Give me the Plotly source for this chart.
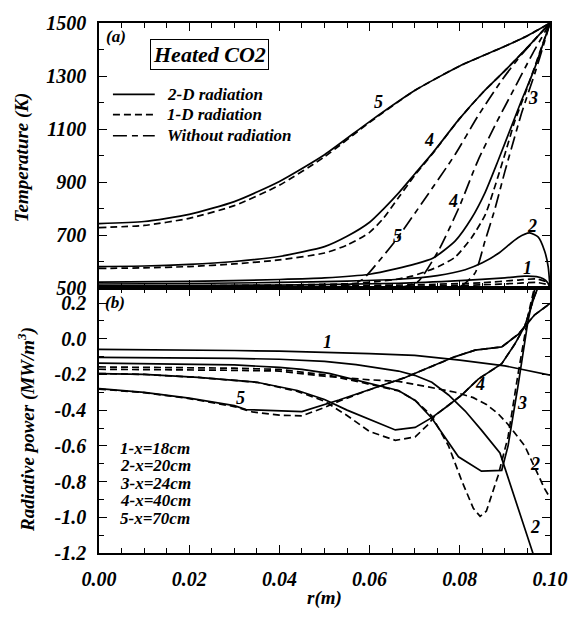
import plotly.graph_objects as go

# ---------------- panel (a): temperature profiles, T (K) vs r (m) ----------------
# 2-D radiation (solid)
r_a_2d_1 = [0, 0.04, 0.0664, 0.08, 0.09, 0.0944, 0.097, 0.0985, 0.0995, 0.1]
T_a_2d_1 = [508, 511, 518, 528, 538, 545, 543, 535, 520, 500]
r_a_2d_2 = [0, 0.02, 0.04, 0.055, 0.0664, 0.075, 0.0812, 0.085, 0.0885, 0.0929, 0.0955, 0.0974, 0.0988, 0.0996, 0.1]
T_a_2d_2 = [515, 517, 521, 526, 533, 547, 569, 595, 630, 690, 708, 692, 640, 580, 500]
r_a_2d_3 = [0, 0.02, 0.04, 0.05, 0.06, 0.066, 0.07, 0.074, 0.079, 0.0826, 0.0856, 0.0885, 0.091, 0.0935, 0.0965, 0.1]
T_a_2d_3 = [522, 525, 532, 538, 552, 573, 590, 612, 678, 763, 860, 981, 1090, 1200, 1325, 1500]
r_a_2d_4 = [0, 0.01, 0.02, 0.03, 0.04, 0.05, 0.055, 0.06, 0.063, 0.0665, 0.07, 0.074, 0.08, 0.085, 0.09, 0.095, 0.1]
T_a_2d_4 = [581, 583, 589, 600, 619, 656, 695, 748, 797, 860, 930, 1010, 1140, 1236, 1320, 1408, 1500]
r_a_2d_5 = [0, 0.01, 0.02, 0.03, 0.04, 0.05, 0.06, 0.07, 0.08, 0.09, 0.095, 0.1]
T_a_2d_5 = [743, 751, 778, 826, 902, 1003, 1128, 1245, 1338, 1412, 1452, 1500]

# 1-D radiation (dashed)
r_a_1d_1 = [0, 0.04, 0.07, 0.085, 0.093, 0.097, 0.0995, 0.1]
T_a_1d_1 = [503, 504, 507, 512, 518, 521, 512, 500]
r_a_1d_2 = [0, 0.04, 0.07, 0.085, 0.093, 0.097, 0.0995, 0.1]
T_a_1d_2 = [506, 508, 512, 520, 530, 534, 520, 500]
r_a_1d_3 = [0, 0.02, 0.04, 0.055, 0.062, 0.066, 0.0694, 0.0753, 0.079, 0.0826, 0.0856, 0.0878, 0.09, 0.0922, 0.0951, 0.1]
T_a_1d_3 = [506, 508, 511, 516, 525, 533, 545, 581, 617, 690, 775, 884, 1005, 1130, 1262, 1500]
r_a_1d_4 = [0, 0.01, 0.02, 0.03, 0.04, 0.05, 0.055, 0.06, 0.063, 0.0665, 0.07, 0.074, 0.08, 0.085, 0.09, 0.095, 0.1]
T_a_1d_4 = [574, 576, 581, 591, 606, 632, 662, 710, 762, 843, 925, 1008, 1140, 1236, 1320, 1408, 1500]
r_a_1d_5 = [0, 0.01, 0.02, 0.03, 0.04, 0.05, 0.06, 0.07, 0.08, 0.09, 0.095, 0.1]
T_a_1d_5 = [728, 736, 763, 811, 888, 995, 1125, 1245, 1338, 1412, 1452, 1500]

# without radiation (dash-dot)
r_a_nr_3 = [0, 0.078, 0.0804, 0.0834, 0.0856, 0.0878, 0.09, 0.0915, 0.0937, 0.0966, 0.0988, 0.1]
T_a_nr_3 = [500, 500, 508, 557, 678, 799, 940, 1030, 1160, 1308, 1430, 1500]
r_a_nr_4 = [0, 0.065, 0.068, 0.0709, 0.0753, 0.0797, 0.084, 0.088, 0.092, 0.096, 0.1]
T_a_nr_4 = [500, 500, 506, 527, 642, 799, 980, 1120, 1250, 1380, 1500]
r_a_nr_5 = [0, 0.05, 0.053, 0.056, 0.0585, 0.062, 0.0657, 0.072, 0.079, 0.0841, 0.0893, 0.0937, 0.1]
T_a_nr_5 = [500, 500, 503, 514, 533, 600, 678, 830, 1005, 1151, 1284, 1381, 1500]

# ---------------- panel (b): radiative power (MW/m^3) vs r (m) ----------------
r_b_2d_1 = [0, 0.01, 0.02, 0.03, 0.04, 0.05, 0.06, 0.07, 0.08, 0.09, 0.1]
P_b_2d_1 = [-0.060, -0.061, -0.063, -0.066, -0.070, -0.076, -0.083, -0.093, -0.12, -0.152, -0.204]
r_b_2d_2 = [0, 0.01, 0.02, 0.03, 0.04, 0.05, 0.057, 0.0664, 0.07, 0.0738, 0.0775, 0.0812, 0.0848, 0.0889, 0.0962, 0.098]
P_b_2d_2 = [-0.104, -0.105, -0.107, -0.110, -0.115, -0.127, -0.145, -0.181, -0.205, -0.244, -0.315, -0.405, -0.512, -0.64, -1.2, -1.34]
r_b_2d_3 = [0, 0.01, 0.02, 0.03, 0.04, 0.045, 0.051, 0.06, 0.0664, 0.0701, 0.0738, 0.0797, 0.0848, 0.0893, 0.0907, 0.0929, 0.0951, 0.0966, 0.0975]
P_b_2d_3 = [-0.137, -0.139, -0.142, -0.147, -0.16, -0.172, -0.194, -0.25, -0.29, -0.346, -0.445, -0.661, -0.742, -0.737, -0.6, -0.265, 0.096, 0.276, 0.38]
r_b_2d_4 = [0, 0.01, 0.022, 0.035, 0.044, 0.05, 0.055, 0.0606, 0.0657, 0.0701, 0.0738, 0.0767, 0.0804, 0.0841, 0.0893, 0.0922, 0.0944, 0.0966, 0.098]
P_b_2d_4 = [-0.195, -0.2, -0.217, -0.244, -0.29, -0.34, -0.40, -0.46, -0.511, -0.497, -0.442, -0.388, -0.316, -0.226, -0.14, -0.03, 0.07, 0.24, 0.33]
r_b_2d_5 = [0, 0.01, 0.02, 0.03, 0.0326, 0.04, 0.045, 0.0532, 0.0606, 0.0679, 0.0738, 0.079, 0.0834, 0.0863, 0.0893, 0.093, 0.0966, 0.1]
P_b_2d_5 = [-0.28, -0.30, -0.333, -0.375, -0.397, -0.404, -0.408, -0.343, -0.28, -0.217, -0.154, -0.1, -0.064, -0.055, -0.046, 0.026, 0.134, 0.197]

r_b_1d_2 = [0, 0.01, 0.02, 0.03, 0.04, 0.05, 0.06, 0.0664, 0.073, 0.079, 0.083, 0.086, 0.0885, 0.0907, 0.0944, 0.0988, 0.1]
P_b_1d_2 = [-0.171, -0.172, -0.174, -0.177, -0.181, -0.21, -0.23, -0.239, -0.27, -0.30, -0.33, -0.37, -0.42, -0.48, -0.60, -0.84, -0.89]
r_b_1d_3 = [0, 0.01, 0.02, 0.03, 0.04, 0.051, 0.06, 0.0664, 0.0701, 0.0738, 0.0775, 0.0805, 0.083, 0.0845, 0.0859, 0.0885, 0.0907, 0.0929, 0.0953, 0.0967, 0.0976]
P_b_1d_3 = [-0.158, -0.159, -0.161, -0.165, -0.172, -0.205, -0.255, -0.292, -0.345, -0.433, -0.6, -0.8, -0.95, -0.995, -0.965, -0.766, -0.55, -0.2, 0.15, 0.30, 0.40]
r_b_1d_4 = [0, 0.01, 0.022, 0.035, 0.044, 0.05, 0.055, 0.06, 0.0657, 0.0701, 0.0731, 0.0745, 0.0767, 0.0804, 0.0841, 0.0893, 0.0922, 0.0944, 0.0966, 0.098]
P_b_1d_4 = [-0.195, -0.2, -0.217, -0.244, -0.295, -0.35, -0.43, -0.52, -0.569, -0.55, -0.478, -0.43, -0.388, -0.316, -0.226, -0.14, -0.03, 0.07, 0.24, 0.33]
r_b_1d_5 = [0, 0.01, 0.02, 0.03, 0.034, 0.04, 0.045, 0.05, 0.0532, 0.0606, 0.0679, 0.0738, 0.079, 0.0834, 0.0863, 0.0893, 0.093, 0.0966, 0.1]
P_b_1d_5 = [-0.282, -0.302, -0.335, -0.38, -0.41, -0.428, -0.432, -0.385, -0.35, -0.28, -0.217, -0.154, -0.1, -0.064, -0.055, -0.046, 0.026, 0.134, 0.197]

# axis ticks
x_tickvals = [0.0, 0.02, 0.04, 0.06, 0.08, 0.10]
x_ticktext = ["0.00", "0.02", "0.04", "0.06", "0.08", "0.10"]
T_tickvals = [500, 700, 900, 1100, 1300, 1500]
T_ticktext = ["500", "700", "900", "1100", "1300", "1500"]
P_tickvals = [-1.2, -1.0, -0.8, -0.6, -0.4, -0.2, 0.0, 0.2]
P_ticktext = ["-1.2", "-1.0", "-0.8", "-0.6", "-0.4", "-0.2", "0.0", "0.2"]

legend_names = ["2-D radiation", "1-D radiation", "Without radiation"]
case_labels = ["1-x=18cm", "2-x=20cm", "3-x=24cm", "4-x=40cm", "5-x=70cm"]

FAMILY = "Liberation Serif"


def bfont(size):
    return dict(family=FAMILY, size=size, color="black", weight="bold", style="italic")


def bi(s):
    return "<b><i>" + s + "</i></b>"


SOLID = "solid"
DASHED = "7px,4px"
DASHDOT = "14px,5px,6px,5px"
LW = 1.7

# plot box in pixels (left, right, top, bottom) used for paper-space notes
BOX_L, BOX_R, BOX_T, BOX_B = 99, 552, 14, 564


def px_x(px):
    return (px - BOX_L) / (BOX_R - BOX_L)


def px_y(py):
    return (BOX_B - py) / (BOX_B - BOX_T)


fig = go.Figure()


def add(x, y, dash, panel, shape="spline"):
    xa, ya = ("x", "y") if panel == "a" else ("x2", "y2")
    fig.add_trace(go.Scatter(
        x=x, y=y, mode="lines", xaxis=xa, yaxis=ya,
        line=dict(color="black", width=LW, dash=dash, shape=shape,
                  smoothing=0.6 if shape == "spline" else None),
        showlegend=False, hoverinfo="skip",
    ))


# panel (a)
for x, y in [(r_a_2d_1, T_a_2d_1), (r_a_2d_2, T_a_2d_2), (r_a_2d_3, T_a_2d_3),
             (r_a_2d_4, T_a_2d_4), (r_a_2d_5, T_a_2d_5)]:
    add(x, y, SOLID, "a")
for x, y in [(r_a_1d_1, T_a_1d_1), (r_a_1d_2, T_a_1d_2), (r_a_1d_3, T_a_1d_3),
             (r_a_1d_4, T_a_1d_4), (r_a_1d_5, T_a_1d_5)]:
    add(x, y, DASHED, "a")
for x, y in [(r_a_nr_3, T_a_nr_3), (r_a_nr_4, T_a_nr_4), (r_a_nr_5, T_a_nr_5)]:
    add(x, y, DASHDOT, "a")

# panel (b)
for x, y in [(r_b_2d_1, P_b_2d_1), (r_b_2d_2, P_b_2d_2), (r_b_2d_3, P_b_2d_3),
             (r_b_2d_4, P_b_2d_4), (r_b_2d_5, P_b_2d_5)]:
    add(x, y, SOLID, "b", shape="linear")
for x, y in [(r_b_1d_2, P_b_1d_2), (r_b_1d_3, P_b_1d_3), (r_b_1d_4, P_b_1d_4), (r_b_1d_5, P_b_1d_5)]:
    add(x, y, DASHED, "b", shape="linear")

ann = []


def label(text, x, y, panel, size=18, **kw):
    xr, yr = ("x", "y") if panel == "a" else ("x2", "y2")
    d = dict(text=bi(text), x=x, y=y, xref=xr, yref=yr, showarrow=False, font=bfont(size),
             xanchor="center", yanchor="middle")
    d.update(kw)
    ann.append(d)


def paper_note(text, px, py, size, **kw):
    d = dict(text=bi(text), x=px_x(px), y=px_y(py), xref="paper", yref="paper",
             showarrow=False, font=bfont(size), xanchor="center", yanchor="middle")
    d.update(kw)
    ann.append(d)


# curve numbers, panel (a)
label("(a)", 0.0038, 1449, "a", size=17)
label("5", 0.0620, 1202, "a")
label("4", 0.0731, 1060, "a")
label("3", 0.0963, 1216, "a")
label("2", 0.0959, 733, "a")
label("1", 0.0951, 575, "a")
label("4", 0.0786, 830, "a")
label("5", 0.0661, 696, "a")

# curve numbers, panel (b)
label("(b)", 0.0035, 0.203, "b", size=17)
label("1", 0.0506, -0.019, "b")
label("5", 0.0313, -0.334, "b")
label("4", 0.0845, -0.253, "b")
label("3", 0.0937, -0.361, "b")
label("2", 0.0966, -0.704, "b")
label("2", 0.0966, -1.055, "b")

for txt, yv in zip(case_labels, [-0.614, -0.711, -0.811, -0.908, -1.005]):
    label(txt, 0.0042, yv, "b", size=17, xanchor="left")

# boxed title
paper_note("Heated CO2", 210, 47, 22, bordercolor="black", borderwidth=1, borderpad=2,
           bgcolor="white")

# line-style key
shapes = []
for name, dash, py in zip(legend_names, [SOLID, DASHED, DASHDOT], [88, 109, 131]):
    shapes.append(dict(type="line", xref="paper", yref="paper",
                       x0=px_x(113), x1=px_x(155), y0=px_y(py), y1=px_y(py),
                       line=dict(color="black", width=LW, dash=dash)))
    paper_note(name, 165, py, 17, xanchor="left")

# axis titles
paper_note("Temperature (K)", 22, 153, 19, textangle=-90)
paper_note("Radiative power (MW/m<sup>3</sup>)", 26, 436, 19, textangle=-90)

axis_common = dict(
    showline=True, linecolor="black", linewidth=1.5, mirror="allticks",
    ticks="inside", ticklen=8, tickwidth=1.3, tickcolor="black",
    showgrid=False, zeroline=False, tickfont=bfont(20), ticklabelstandoff=7,
)

fig.update_layout(
    width=580, height=617,
    margin=dict(l=BOX_L, r=580 - BOX_R, t=BOX_T, b=617 - BOX_B),
    paper_bgcolor="white", plot_bgcolor="white",
    annotations=ann, shapes=shapes,
    showlegend=False,
    xaxis=dict(domain=[0, 1], anchor="y", range=[0, 0.1], showticklabels=False,
               tickvals=x_tickvals,
               minor=dict(ticks="inside", dtick=0.005, tick0=0, ticklen=5, tickcolor="black"),
               **axis_common),
    yaxis=dict(domain=[0.5, 1], anchor="x", range=[500, 1500],
               tickvals=T_tickvals, ticktext=[bi(t) for t in T_ticktext],
               minor=dict(ticks="inside", dtick=100, tick0=500, ticklen=5, tickcolor="black"),
               **axis_common),
    xaxis2=dict(domain=[0, 1], anchor="y2", range=[0, 0.1],
                tickvals=x_tickvals, ticktext=[bi(t) for t in x_ticktext],
                title=dict(text=bi("r(m)"), font=bfont(19), standoff=2),
                minor=dict(ticks="inside", dtick=0.005, tick0=0, ticklen=5, tickcolor="black"),
                **axis_common),
    yaxis2=dict(domain=[0, 0.5], anchor="x2", range=[-1.2, 0.284],
                tickvals=P_tickvals, ticktext=[bi(t) for t in P_ticktext],
                minor=dict(ticks="inside", dtick=0.1, tick0=-1.2, ticklen=5, tickcolor="black"),
                **axis_common),
)

fig.write_html("out.html")
